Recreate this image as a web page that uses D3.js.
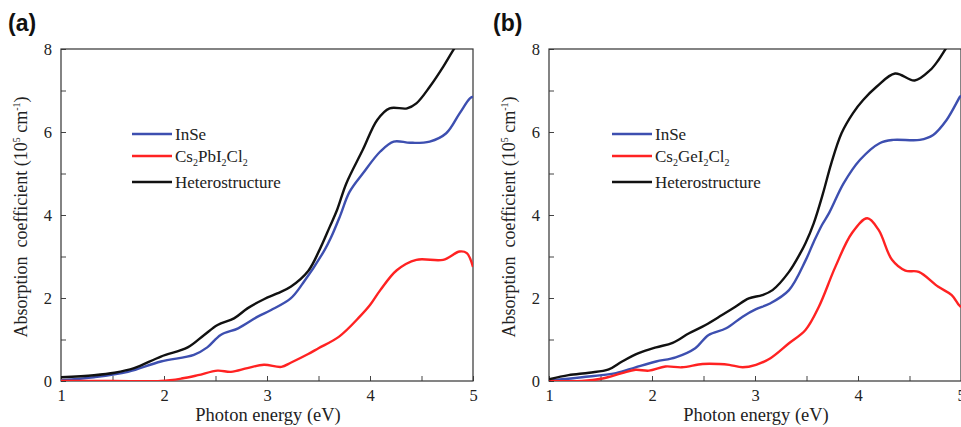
<!DOCTYPE html>
<html>
<head>
<meta charset="utf-8">
<script src="https://cdn.jsdelivr.net/npm/d3@7"></script>
<style>
  body { margin: 0; background: #fff; }
  svg text { font-family: "Liberation Serif", "Times New Roman", serif; fill: #222; }
</style>
</head>
<body>
<script>
// x ticks / y ticks
const xTicks = [1, 2, 3, 4, 5];
const yTicks = [0, 2, 4, 6, 8];

// panel (a) — [photon energy eV, absorption 10^5 cm^-1]
const inseA = [[1,0.02],[1.32,0.09],[1.65,0.22],[1.97,0.47],[2.29,0.63],[2.42,0.81],[2.55,1.11],[2.72,1.27],[2.91,1.55],[3.04,1.71],[3.23,1.99],[3.35,2.36],[3.56,3.16],[3.62,3.45],[3.71,3.98],[3.8,4.55],[3.93,5.0],[4.1,5.53],[4.23,5.77],[4.39,5.74],[4.58,5.77],[4.74,5.97],[4.87,6.45],[4.97,6.81],[5,6.85]];
const pbA = [[1,0],[1.5,0],[1.97,0],[2.17,0.06],[2.33,0.14],[2.52,0.25],[2.65,0.22],[2.81,0.31],[2.97,0.39],[3.14,0.34],[3.23,0.44],[3.4,0.65],[3.5,0.79],[3.7,1.07],[3.9,1.55],[4,1.83],[4.1,2.19],[4.26,2.67],[4.45,2.92],[4.71,2.92],[4.87,3.12],[4.94,3.08],[5,2.75]];
const heteroA = [[1,0.09],[1.32,0.14],[1.52,0.2],[1.71,0.31],[1.97,0.59],[2.23,0.81],[2.39,1.11],[2.52,1.35],[2.68,1.51],[2.81,1.75],[2.97,1.97],[3.1,2.11],[3.23,2.27],[3.4,2.65],[3.51,3.16],[3.61,3.72],[3.68,4.12],[3.77,4.76],[3.93,5.57],[4.07,6.29],[4.19,6.57],[4.36,6.57],[4.45,6.69],[4.58,7.09],[4.71,7.57],[4.81,7.98],[4.9,8.3],[5,8.7]];

// panel (b)
const inseB = [[1,0.01],[1.32,0.09],[1.65,0.19],[1.84,0.33],[2.04,0.47],[2.23,0.57],[2.42,0.79],[2.55,1.11],[2.72,1.27],[2.88,1.55],[3.01,1.73],[3.14,1.86],[3.33,2.19],[3.49,2.9],[3.57,3.35],[3.65,3.76],[3.72,4.05],[3.86,4.76],[4.02,5.33],[4.21,5.73],[4.34,5.81],[4.6,5.81],[4.73,5.93],[4.86,6.29],[4.99,6.85],[5,6.88]];
const geB = [[1,0],[1.32,0],[1.52,0.06],[1.71,0.19],[1.84,0.27],[1.97,0.25],[2.13,0.35],[2.29,0.33],[2.49,0.41],[2.65,0.41],[2.75,0.39],[2.88,0.33],[3.01,0.39],[3.15,0.55],[3.33,0.91],[3.49,1.23],[3.62,1.79],[3.78,2.75],[3.94,3.56],[4.09,3.92],[4.2,3.64],[4.33,2.92],[4.46,2.66],[4.59,2.63],[4.78,2.27],[4.91,2.07],[4.98,1.83],[5,1.78]];
const heteroB = [[1,0.04],[1.19,0.14],[1.39,0.2],[1.58,0.28],[1.71,0.47],[1.87,0.67],[2.04,0.81],[2.2,0.92],[2.36,1.15],[2.52,1.35],[2.68,1.59],[2.81,1.79],[2.94,1.99],[3.07,2.07],[3.17,2.19],[3.33,2.63],[3.44,3.08],[3.49,3.32],[3.57,3.8],[3.66,4.52],[3.74,5.24],[3.84,5.97],[3.95,6.45],[4.05,6.77],[4.18,7.09],[4.36,7.41],[4.55,7.24],[4.7,7.49],[4.78,7.73],[4.85,8.0],[5,8.6]];

const colors = { inse: '#3d4fb0', red: '#ff2222', black: '#111111' };

const width = 961;
const height = 427;
const svg = d3.select('body').append('svg')
    .attr('width', width)
    .attr('height', height);

const panels = [
    { tag: '(a)', tagX: 8, left: 61, series: [inseA, pbA, heteroA], mat: ['Cs', '2', 'PbI', '2', 'Cl', '2'], legX: 132 },
    { tag: '(b)', tagX: 493, left: 549, series: [inseB, geB, heteroB], mat: ['Cs', '2', 'GeI', '2', 'Cl', '2'], legX: 612 }
];

panels.forEach((p, i) => drawPanel(p, i));

function drawPanel(p, i) {
    const top = 49, bottom = 381, w = 412;
    const x = d3.scaleLinear().domain([1, 5]).range([p.left, p.left + w]);
    const y = d3.scaleLinear().domain([0, 8]).range([bottom, top]);
    const g = svg.append('g');

    g.append('text')
        .attr('x', p.tagX).attr('y', 31)
        .style('font-family', '"Liberation Sans", Arial, sans-serif')
        .style('font-weight', 'bold')
        .style('font-size', '23px')
        .style('fill', '#111')
        .text(p.tag);

    const clipId = 'clip' + i;
    g.append('clipPath').attr('id', clipId)
        .append('rect')
        .attr('x', p.left).attr('y', top)
        .attr('width', w).attr('height', bottom - top);

    // ticks pointing inward
    const xAxis = d3.axisBottom(x).tickValues(d3.range(1, 5.01, 0.5))
        .tickSize(-5).tickFormat(d => xTicks.includes(d) ? d : '');
    const xa = g.append('g').attr('transform', `translate(0,${bottom})`).call(xAxis);
    const yAxis = d3.axisLeft(y).tickValues(d3.range(0, 8.01, 1))
        .tickSize(-5).tickFormat(d => yTicks.includes(d) ? d : '');
    const ya = g.append('g').attr('transform', `translate(${p.left},0)`).call(yAxis);
    [xa, ya].forEach(a => {
        a.select('.domain').remove();
        a.selectAll('line').attr('stroke', '#444');
        a.selectAll('text')
            .style('font-family', '"Liberation Serif", serif')
            .style('font-size', '16.5px')
            .style('fill', '#222');
    });
    xa.selectAll('text').attr('y', 2).attr('dy', '1.1em');
    ya.selectAll('text').attr('x', -9).attr('dy', '0.35em');

    g.append('rect')
        .attr('x', p.left).attr('y', top)
        .attr('width', w).attr('height', bottom - top)
        .attr('fill', 'none').attr('stroke', '#333').attr('stroke-width', 1.2);

    const line = d3.line()
        .x(d => x(d[0])).y(d => y(d[1]))
        .curve(d3.curveCatmullRom.alpha(0.5));
    const cols = [colors.inse, colors.red, colors.black];
    const lines = g.append('g').attr('clip-path', `url(#${clipId})`);
    p.series.forEach((s, k) => {
        lines.append('path')
            .datum(s)
            .attr('d', line)
            .attr('fill', 'none')
            .attr('stroke', cols[k])
            .attr('stroke-width', 2.4)
            .attr('stroke-linejoin', 'round');
    });

    // axis titles
    g.append('text')
        .attr('x', p.left + w / 2 + 1).attr('y', 421)
        .attr('text-anchor', 'middle')
        .style('font-size', '18.5px')
        .text('Photon energy (eV)');

    const yl = g.append('text')
        .attr('transform', `translate(${p.left - 34},${(top + bottom) / 2 + 2}) rotate(-90)`)
        .attr('text-anchor', 'middle')
        .style('font-size', '18px')
        .style('white-space', 'pre');
    yl.append('tspan').text('Absorption  coefficient (10');
    yl.append('tspan').attr('dy', -7).style('font-size', '10px').text('5');
    yl.append('tspan').attr('dy', 7).text(' cm');
    yl.append('tspan').attr('dy', -7).style('font-size', '10px').text('-1');
    yl.append('tspan').attr('dy', 7).text(')');

    // legend
    const rows = [134, 156, 182];
    const lg = g.append('g');
    rows.forEach((ry, k) => {
        lg.append('line')
            .attr('x1', p.legX).attr('x2', p.legX + 40)
            .attr('y1', ry).attr('y2', ry)
            .attr('stroke', cols[k]).attr('stroke-width', 2.4);
    });
    lg.append('text').attr('x', p.legX + 43).attr('y', rows[0] + 6)
        .style('font-size', '17px').text('InSe');
    const mt = lg.append('text').attr('x', p.legX + 43).attr('y', rows[1] + 6)
        .style('font-size', '17px');
    for (let j = 0; j < p.mat.length; j += 2) {
        mt.append('tspan').attr('dy', j === 0 ? 0 : -4).text(p.mat[j]);
        mt.append('tspan').attr('dy', 4).style('font-size', '10px').text(p.mat[j + 1]);
    }
    lg.append('text').attr('x', p.legX + 43).attr('y', rows[2] + 6)
        .style('font-size', '17px').text('Heterostructure');
}
</script>
</body>
</html>
